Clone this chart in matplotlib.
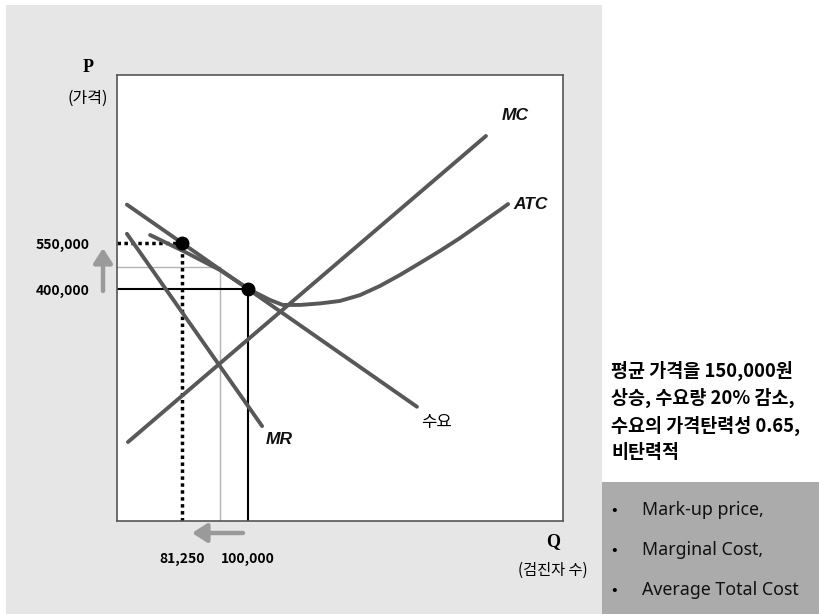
import matplotlib
matplotlib.use("Agg")
import matplotlib.pyplot as plt
from matplotlib.patches import Rectangle

plt.rcParams['font.family'] = ['Noto Sans CJK KR', 'DejaVu Sans']

# market values (Q = 검진자 수, P = 가격)
q_markup, p_markup = 81250, 550000
q_base, p_base = 100000, 400000
q_atc_ref, p_atc_ref = 92000, 472000

demand_q = [65600, 81250, 100000, 148000]
demand_p = [675200, 550000, 400000, 16000]

mr_q = [65600, 104000]
mr_p = [580000, -47000]

mc_q = [65900, 167600]
mc_p = [-99000, 899000]

atc_q = [72200, 82100, 92000, 100600, 106300, 109900, 114800, 120500,
         126100, 131800, 137500, 143200, 148900, 154500, 160200, 165900,
         171600, 173900]
atc_p = [576000, 521000, 462000, 397000, 364000, 348000, 348000, 353000,
         361000, 380000, 410000, 446000, 485000, 524000, 566000, 612000,
         658000, 677000]

x_ticks = [q_markup, q_base]
x_labels = ['81,250', '100,000']
y_ticks = [p_markup, p_base]
y_labels = ['550,000', '400,000']

note_lines = ['평균 가격을 150,000원', '상승, 수요량 20% 감소,',
              '수요의 가격탄력성 0.65,', '비탄력적']
bullets = ['Mark-up price,', 'Marginal Cost,', 'Average Total Cost']

W, H = 819, 614


def fx(px):
    return px / W


def fy(py):
    return 1 - py / H


fig = plt.figure(figsize=(W / 100, H / 100), dpi=100)
fig.patch.set_facecolor('white')

# background panels
fig.patches.append(Rectangle((fx(6), 0), fx(602) - fx(6), fy(5),
                             transform=fig.transFigure, facecolor='#e6e6e6',
                             edgecolor='none', zorder=-2))
fig.patches.append(Rectangle((fx(602), 0), 1 - fx(602), fy(482),
                             transform=fig.transFigure, facecolor='#ababab',
                             edgecolor='none', zorder=-2))

ax = fig.add_axes([fx(117), fy(521), fx(563) - fx(117), fy(75) - fy(521)])
ax.set_facecolor('white')
xmin, xmax = 62784, 189489
ymin, ymax = -356522, 1097826
ax.set_xlim(xmin, xmax)
ax.set_ylim(ymin, ymax)
for s in ax.spines.values():
    s.set_color('#555555')
    s.set_linewidth(1.2)

ax.set_xticks(x_ticks, x_labels)
ax.set_yticks(y_ticks, y_labels)
ax.tick_params(length=0, labelsize=10)
ax.tick_params(axis='x', pad=22)
ax.tick_params(axis='y', pad=20)
for t in ax.get_xticklabels() + ax.get_yticklabels():
    t.set_fontweight('bold')

curve = dict(color='#585858', lw=2.8, solid_capstyle='round',
             solid_joinstyle='round', zorder=3)

# reference guides
ax.plot([xmin, q_atc_ref], [p_atc_ref, p_atc_ref], color='#b4b4b4', lw=1, zorder=1)
ax.plot([q_atc_ref, q_atc_ref], [ymin, p_atc_ref], color='#b4b4b4', lw=1, zorder=1)
ax.plot([xmin, q_base], [p_base, p_base], color='black', lw=1.5, zorder=2)
ax.plot([q_base, q_base], [ymin, p_base], color='black', lw=1.5, zorder=2)
ax.plot([xmin, q_markup], [p_markup, p_markup], color='black', lw=2.5,
        linestyle=(0, (1, 1)), zorder=2)
ax.plot([q_markup, q_markup], [ymin, p_markup], color='black', lw=2.5,
        linestyle=(0, (1, 1)), zorder=2)

ax.plot(demand_q, demand_p, **curve)
ax.plot(mr_q, mr_p, **curve)
ax.plot(mc_q, mc_p, **curve)
ax.plot(atc_q, atc_p, **curve)

ax.plot([q_markup, q_base], [p_markup, p_base], 'o', color='black', ms=9,
        linestyle='none', zorder=5)

# curve labels
lab = dict(fontsize=12.5, fontweight='bold', style='italic',
           family=['Liberation Sans', 'DejaVu Sans'], ha='center',
           va='center', color='#111111')
fig.text(fx(515), fy(115), 'MC', **lab)
fig.text(fx(531), fy(205), 'ATC', **lab)
fig.text(fx(279), fy(439), 'MR', **lab)
fig.text(fx(437), fy(423), '수요', fontsize=12, ha='center', va='center')

# axis titles
serif = dict(family=['Liberation Serif', 'DejaVu Serif'], fontweight='bold',
             fontsize=13, ha='center', va='center')
fig.text(fx(88), fy(68), 'P', **serif)
fig.text(fx(88), fy(98), '(가격)', fontsize=11.5, ha='center', va='center')
fig.text(fx(553), fy(542), 'Q', **serif)
fig.text(fx(553), fy(570), '(검진자 수)', fontsize=11, ha='center', va='center')

# shift arrows
arrow = dict(arrowstyle='-|>,head_length=0.55,head_width=0.35',
             color='#9a9a9a', lw=3.2, mutation_scale=16, shrinkA=0, shrinkB=0)
ax.annotate('', xy=(103, H - 248), xytext=(103, H - 291),
            xycoords='figure pixels', textcoords='figure pixels',
            arrowprops=arrow, annotation_clip=False)
ax.annotate('', xy=(192, H - 533), xytext=(243, H - 533),
            xycoords='figure pixels', textcoords='figure pixels',
            arrowprops=arrow, annotation_clip=False)

# side notes
for i, line in enumerate(note_lines):
    fig.text(fx(611), fy(371 + 27.3 * i), line, fontsize=13.3,
             fontweight='bold', ha='left', va='center')
for i, item in enumerate(bullets):
    y = fy(510 + 40 * i)
    fig.text(fx(614), y, '•', fontsize=12, ha='center', va='center')
    fig.text(fx(642), y, item, fontsize=12.8, ha='left', va='center',
             family=['Noto Sans', 'DejaVu Sans'], color='#111111')

fig.savefig('out.png', dpi=100)
